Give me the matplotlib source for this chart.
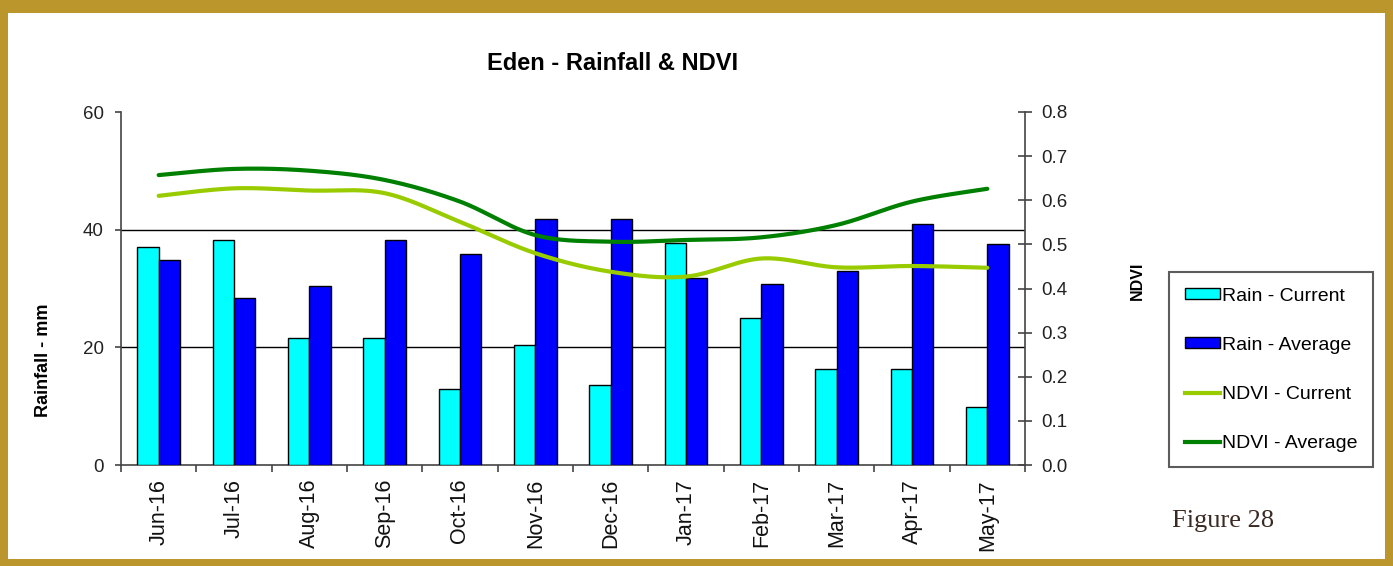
import numpy as np
import matplotlib
matplotlib.use("Agg")
import matplotlib.pyplot as plt
from matplotlib.patches import Rectangle, Patch
from matplotlib.lines import Line2D

plt.rcParams['font.family'] = ['Liberation Sans', 'DejaVu Sans']

months = ['Jun-16', 'Jul-16', 'Aug-16', 'Sep-16', 'Oct-16', 'Nov-16',
          'Dec-16', 'Jan-17', 'Feb-17', 'Mar-17', 'Apr-17', 'May-17']
rain_current = [37.0, 38.2, 21.6, 21.6, 12.9, 20.4, 13.6, 37.8, 25.0, 16.4, 16.4, 9.9]
rain_average = [34.8, 28.4, 30.4, 38.2, 35.8, 41.8, 41.8, 31.8, 30.8, 33.0, 41.0, 37.6]
ndvi_current = [0.610, 0.627, 0.622, 0.616, 0.551, 0.480, 0.438, 0.427, 0.468, 0.448, 0.451, 0.447]
ndvi_average = [0.657, 0.671, 0.667, 0.646, 0.597, 0.521, 0.506, 0.510, 0.516, 0.544, 0.597, 0.626]

rain_ticks = [0, 20, 40, 60]
ndvi_ticks = [0.0, 0.1, 0.2, 0.3, 0.4, 0.5, 0.6, 0.7, 0.8]

gold = '#BB962C'
c_cur = '#00FFFF'
c_avg = '#0000FF'
c_ndvi_cur = '#99CC00'
c_ndvi_avg = '#008000'


def smooth(x, y, n=30):
    # excel style smoothed line (bezier through the points)
    x = np.asarray(x, float)
    y = np.asarray(y, float)
    px = np.concatenate([[x[0]], x, [x[-1]]])
    py = np.concatenate([[y[0]], y, [y[-1]]])
    t = np.linspace(0, 1, n)
    xs, ys = [], []
    for k in range(len(x) - 1):
        p0 = np.array([px[k], py[k]])
        p1 = np.array([px[k + 1], py[k + 1]])
        p2 = np.array([px[k + 2], py[k + 2]])
        p3 = np.array([px[k + 3], py[k + 3]])
        c1 = p1 + (p2 - p0) / 6
        c2 = p2 - (p3 - p1) / 6
        b = ((1 - t) ** 3)[:, None] * p1 + (3 * (1 - t) ** 2 * t)[:, None] * c1 \
            + (3 * (1 - t) * t ** 2)[:, None] * c2 + (t ** 3)[:, None] * p2
        xs.extend(b[:, 0])
        ys.extend(b[:, 1])
    return np.array(xs), np.array(ys)


fig = plt.figure(figsize=(13.93, 5.66), dpi=100, facecolor=gold)
fig.patches.append(Rectangle((8 / 1393, 7 / 566), 1377 / 1393, 546 / 566,
                             transform=fig.transFigure, facecolor='white',
                             edgecolor='none', zorder=-10))

ax = fig.add_axes([121 / 1393, 101 / 566, 904 / 1393, 353 / 566])
ax.set_facecolor('none')
x = np.arange(len(months))
w = 0.285
ax.bar(x - w / 2, rain_current, w, color=c_cur, edgecolor='black', linewidth=1, zorder=3)
ax.bar(x + w / 2, rain_average, w, color=c_avg, edgecolor='black', linewidth=1, zorder=3)
for v in rain_ticks[1:-1]:
    ax.axhline(v, color='black', linewidth=1, zorder=1)

ax.set_xlim(-0.5, len(months) - 0.5)
ax.set_ylim(rain_ticks[0], rain_ticks[-1])
ax.set_yticks(rain_ticks)
ax.set_xticks(x)
ax.set_xticklabels(months, rotation=90, fontsize=15.5, color='#111111')
ax.set_xticks(np.arange(len(months) + 1) - 0.5, minor=True)
ax.tick_params(axis='x', which='major', length=0, pad=10)
ax.tick_params(axis='x', which='minor', length=5, width=1.2, color='#444444', direction='out')
ax.tick_params(axis='y', length=4.5, width=1.2, color='#444444', pad=8, labelsize=13.5,
               labelcolor='#222222')
for s in ['top', 'right']:
    ax.spines[s].set_visible(False)
for s in ['left', 'bottom']:
    ax.spines[s].set_color('#444444')
    ax.spines[s].set_linewidth(1.2)

ax2 = ax.twinx()
sx, sy = smooth(x, ndvi_current)
ax2.plot(sx, sy, color=c_ndvi_cur, linewidth=3, solid_capstyle='round', zorder=4)
sx, sy = smooth(x, ndvi_average)
ax2.plot(sx, sy, color=c_ndvi_avg, linewidth=3, solid_capstyle='round', zorder=4)
ax2.set_ylim(ndvi_ticks[0], ndvi_ticks[-1])
ax2.set_yticks(ndvi_ticks)
ax2.set_yticklabels(['%.1f' % v for v in ndvi_ticks])
ax2.tick_params(axis='y', direction='inout', length=10, width=1.2, color='#444444', pad=7,
                labelsize=13.5, labelcolor='#222222')
for s in ['top', 'left', 'bottom']:
    ax2.spines[s].set_visible(False)
ax2.spines['right'].set_color('#444444')
ax2.spines['right'].set_linewidth(1.2)

fig.text(613 / 1393, 1 - 63 / 566, 'Eden - Rainfall & NDVI', fontsize=17, fontweight='bold',
         ha='center', va='center')
fig.text(44 / 1393, 1 - 360 / 566, 'Rainfall - mm', fontsize=13, fontweight='bold',
         rotation=90, ha='center', va='center')
fig.text(1137 / 1393, 1 - 281 / 566, 'NDVI', fontsize=11.5, fontweight='bold',
         rotation=90, ha='center', va='center')
fig.text(1172 / 1393, 1 - 527 / 566, 'Figure 28', fontsize=19, family='Liberation Serif',
         color='#3b2a22', ha='left', va='baseline')

handles = [Patch(facecolor=c_cur, edgecolor='black', linewidth=1),
           Patch(facecolor=c_avg, edgecolor='black', linewidth=1),
           Line2D([], [], color=c_ndvi_cur, linewidth=3),
           Line2D([], [], color=c_ndvi_avg, linewidth=3)]
labels = ['Rain - Current', 'Rain - Average', 'NDVI - Current', 'NDVI - Average']
leg = fig.legend(handles, labels, loc='upper left',
                 bbox_to_anchor=(1169 / 1393, 1 - 272 / 566), fontsize=14,
                 frameon=True, fancybox=False, edgecolor='#333333',
                 labelspacing=1.65, handlelength=1.8, handleheight=0.45,
                 handletextpad=0.1, borderpad=0.8, borderaxespad=0)
leg.get_frame().set_linewidth(1.5)

fig.savefig('out.png', dpi=100, facecolor=gold)
